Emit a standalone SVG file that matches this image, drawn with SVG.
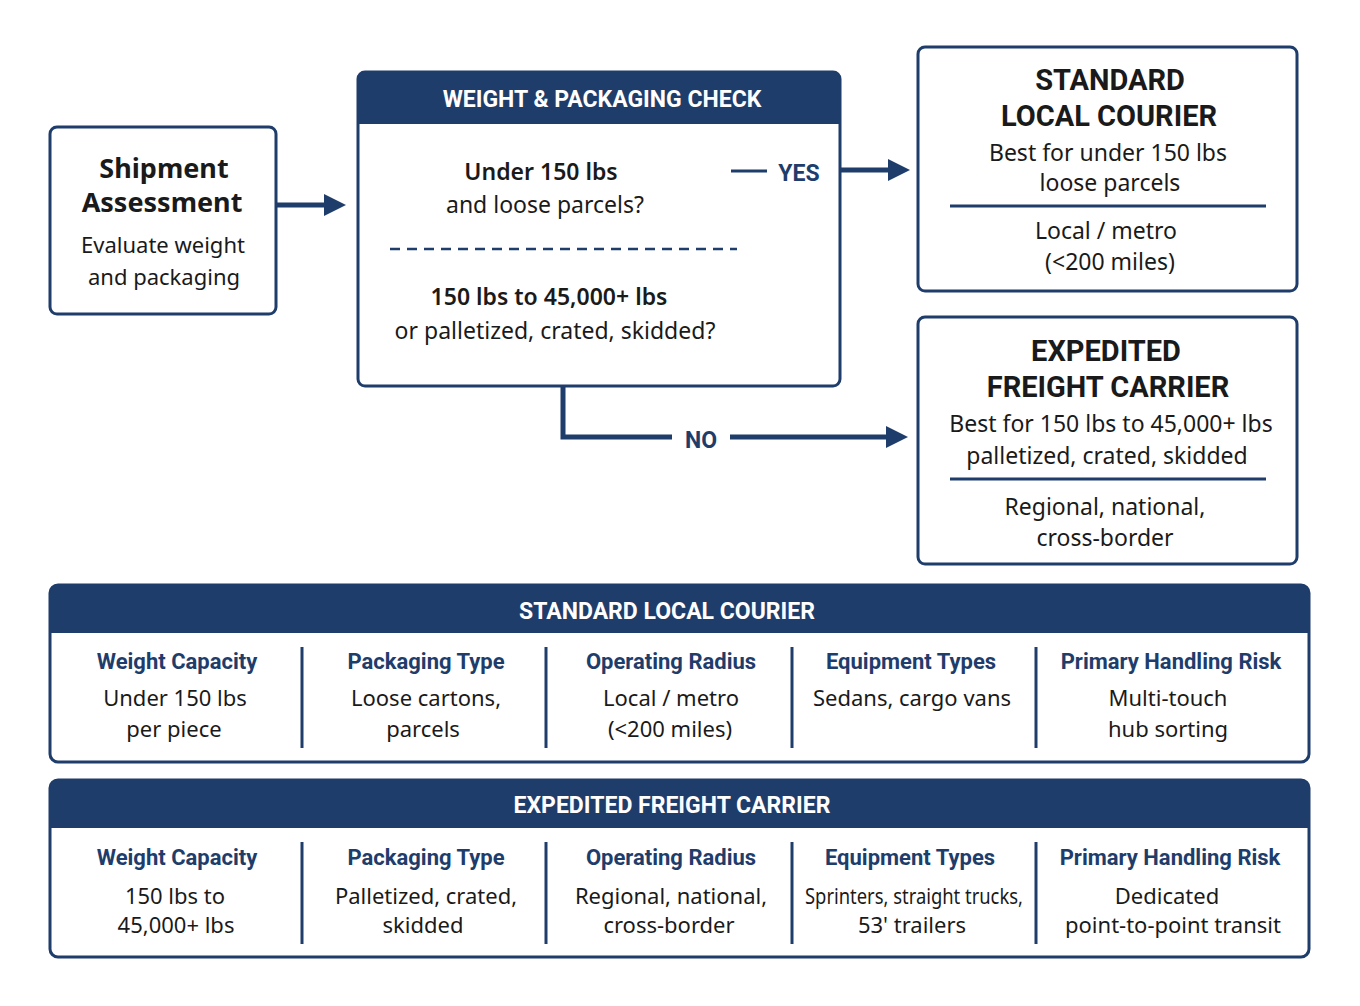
<svg xmlns="http://www.w3.org/2000/svg" width="1360" height="1006" viewBox="0 0 1360 1006">
<defs>
<style>
.box{fill:#fff;stroke:#1f3d6b;stroke-width:3}
.hdr{fill:#1f3d6b}
.t{font-family:"Noto Sans","Open Sans",sans-serif;fill:#1a1a1a;text-anchor:middle}
.b{font-weight:bold}
.title{font-family:Roboto,"Liberation Sans",sans-serif;font-weight:bold;fill:#1a1a1a;text-anchor:middle;font-size:29px}
.ht{font-family:Roboto,"Liberation Sans",sans-serif;font-weight:bold;fill:#fff;text-anchor:middle;font-size:23px}
.ch{font-family:Roboto,"Liberation Sans",sans-serif;font-weight:bold;fill:#1f3d6b;text-anchor:middle;font-size:22px}
.cv{font-family:"Noto Sans","Open Sans",sans-serif;fill:#1a1a1a;text-anchor:middle;font-size:22px}
.ln{stroke:#1f3d6b;stroke-width:3;fill:none}
.cn{stroke:#1f3d6b;stroke-width:5;fill:none}
</style>
<marker id="ah" viewBox="0 0 10 10" refX="2" refY="5" markerWidth="4.5" markerHeight="6" orient="auto" markerUnits="strokeWidth"><path d="M0,0L10,5L0,10Z" fill="#1f3d6b"/></marker>
</defs>
<rect width="1360" height="1006" fill="#fff"/>

<g id="shipment">
<rect class="box" x="50" y="127" width="226" height="187" rx="7"/>
<text class="t b" x="164" y="178" font-size="27">Shipment</text>
<text class="t b" x="162" y="212" font-size="27">Assessment</text>
<text class="t" x="163" y="253" font-size="22">Evaluate weight</text>
<text class="t" x="164" y="285" font-size="22">and packaging</text>
</g>

<g id="check">
<rect class="box" x="358" y="72" width="482" height="314" rx="7"/>
<path class="hdr" d="M365,72H833a7,7 0 0 1 7,7V124H358V79a7,7 0 0 1 7-7Z"/>
<text class="ht" x="602" y="107" font-size="25">WEIGHT &amp; PACKAGING CHECK</text>
<text class="t" x="541" y="180" font-size="23" font-weight="600">Under 150 lbs</text>
<text class="t" x="545" y="213" font-size="23">and loose parcels?</text>
<line x1="390" y1="249" x2="737" y2="249" stroke="#1f3d6b" stroke-width="2.5" stroke-dasharray="10,7"/>
<text class="t" x="549" y="305" font-size="23" font-weight="600">150 lbs to 45,000+ lbs</text>
<text class="t" x="555" y="339" font-size="23">or palletized, crated, skidded?</text>
</g>

<g id="standard">
<rect class="box" x="918" y="47" width="379" height="244" rx="7"/>
<text class="title" x="1110" y="90">STANDARD</text>
<text class="title" x="1109" y="126">LOCAL COURIER</text>
<text class="t" x="1108" y="161" font-size="23">Best for under 150 lbs</text>
<text class="t" x="1110" y="191" font-size="23">loose parcels</text>
<line class="ln" x1="950" y1="206" x2="1266" y2="206" stroke-width="2"/>
<text class="t" x="1106" y="239" font-size="23">Local / metro</text>
<text class="t" x="1110" y="270" font-size="23">(&lt;200 miles)</text>
</g>

<g id="expedited">
<rect class="box" x="918" y="317" width="379" height="247" rx="7"/>
<text class="title" x="1106" y="361">EXPEDITED</text>
<text class="title" x="1108" y="397">FREIGHT CARRIER</text>
<text class="t" x="1111" y="432" font-size="23">Best for 150 lbs to 45,000+ lbs</text>
<text class="t" x="1107" y="464" font-size="23">palletized, crated, skidded</text>
<line class="ln" x1="950" y1="479" x2="1266" y2="479" stroke-width="2"/>
<text class="t" x="1105" y="515" font-size="23">Regional, national,</text>
<text class="t" x="1105" y="546" font-size="23">cross-border</text>
</g>

<g id="connectors">
<line class="cn" x1="276" y1="205" x2="328" y2="205" marker-end="url(#ah)"/>
<line class="cn" x1="840" y1="170" x2="892" y2="170" marker-end="url(#ah)"/>
<line x1="731" y1="171" x2="767" y2="171" stroke="#1f3d6b" stroke-width="3"/>
<text x="799" y="181" font-family="Roboto,'Liberation Sans',sans-serif" font-weight="bold" font-size="23" fill="#1f3d6b" text-anchor="middle">YES</text>
<path class="cn" d="M563,386V437H672"/>
<text x="701" y="448" font-family="Roboto,'Liberation Sans',sans-serif" font-weight="bold" font-size="23" fill="#1f3d6b" text-anchor="middle">NO</text>
<line class="cn" x1="730" y1="437" x2="890" y2="437" marker-end="url(#ah)"/>
</g>

<g id="table-standard">
<rect class="box" x="50" y="585" width="1259" height="177" rx="8"/>
<path class="hdr" d="M58,585H1301a8,8 0 0 1 8,8V633H50V593a8,8 0 0 1 8-8Z"/>
<text class="ht" x="667" y="619">STANDARD LOCAL COURIER</text>
<g class="ln"><line x1="302" y1="647" x2="302" y2="748"/><line x1="546" y1="647" x2="546" y2="748"/><line x1="792" y1="647" x2="792" y2="748"/><line x1="1036" y1="647" x2="1036" y2="748"/></g>
<text class="ch" x="177" y="669">Weight Capacity</text>
<text class="cv" x="175" y="706">Under 150 lbs</text>
<text class="cv" x="174" y="737">per piece</text>
<text class="ch" x="426" y="669">Packaging Type</text>
<text class="cv" x="426" y="706">Loose cartons,</text>
<text class="cv" x="423" y="737">parcels</text>
<text class="ch" x="671" y="669">Operating Radius</text>
<text class="cv" x="671" y="706">Local / metro</text>
<text class="cv" x="670" y="737">(&lt;200 miles)</text>
<text class="ch" x="911" y="669">Equipment Types</text>
<text class="cv" x="912" y="706">Sedans, cargo vans</text>
<text class="ch" x="1171" y="669">Primary Handling Risk</text>
<text class="cv" x="1168" y="706">Multi-touch</text>
<text class="cv" x="1168" y="737">hub sorting</text>
</g>

<g id="table-expedited">
<rect class="box" x="50" y="780" width="1259" height="177" rx="8"/>
<path class="hdr" d="M58,780H1301a8,8 0 0 1 8,8V828H50V788a8,8 0 0 1 8-8Z"/>
<text class="ht" x="672" y="813">EXPEDITED FREIGHT CARRIER</text>
<g class="ln"><line x1="302" y1="842" x2="302" y2="944"/><line x1="546" y1="842" x2="546" y2="944"/><line x1="792" y1="842" x2="792" y2="944"/><line x1="1036" y1="842" x2="1036" y2="944"/></g>
<text class="ch" x="177" y="865">Weight Capacity</text>
<text class="cv" x="175" y="904">150 lbs to</text>
<text class="cv" x="176" y="933">45,000+ lbs</text>
<text class="ch" x="426" y="865">Packaging Type</text>
<text class="cv" x="426" y="904">Palletized, crated,</text>
<text class="cv" x="423" y="933">skidded</text>
<text class="ch" x="671" y="865">Operating Radius</text>
<text class="cv" x="671" y="904">Regional, national,</text>
<text class="cv" x="669" y="933">cross-border</text>
<text class="ch" x="910" y="865">Equipment Types</text>
<text class="cv" x="914" y="904" textLength="218" lengthAdjust="spacingAndGlyphs">Sprinters, straight trucks,</text>
<text class="cv" x="912" y="933">53' trailers</text>
<text class="ch" x="1170" y="865">Primary Handling Risk</text>
<text class="cv" x="1167" y="904">Dedicated</text>
<text class="cv" x="1173" y="933">point-to-point transit</text>
</g>
</svg>
